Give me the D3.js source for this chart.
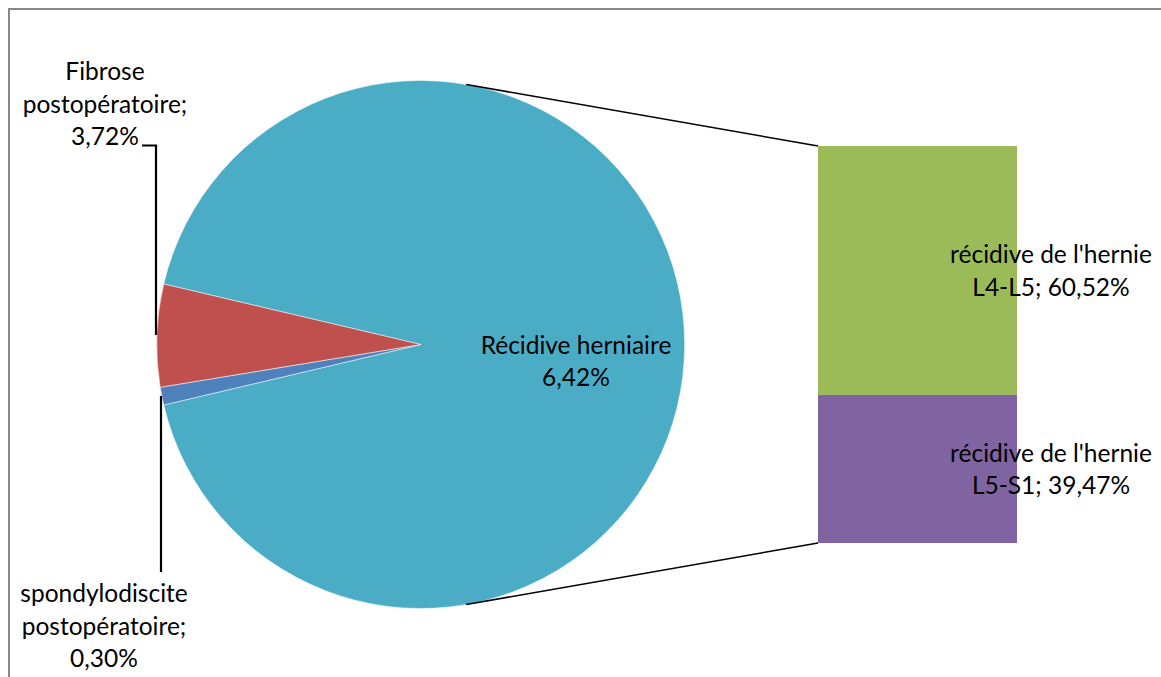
<!DOCTYPE html>
<html>
<head>
<meta charset="utf-8">
<script src="https://cdn.jsdelivr.net/npm/d3@7"></script>
<style>
  html, body { margin: 0; padding: 0; background: #fff; }
  svg { display: block; }
  text { font-family: Lato, "Open Sans", sans-serif; fill: #000; }
</style>
</head>
<body>
<svg id="chart" width="1161" height="677"></svg>
<script>
// ---- data ----
const pieCategories = ["Récidive herniaire", "spondylodiscite postopératoire", "Fibrose postopératoire"];
const pieOwnValues = [1.09, 6.27];            // spondylodiscite, fibrose
const barCategories = ["récidive de l'hernie L4-L5", "récidive de l'hernie L5-S1"];
const barValues = [58.07, 34.56];             // L4-L5, L5-S1
const pieLabels = [["Récidive herniaire", "6,42%"], ["spondylodiscite", "postopératoire;", "0,30%"], ["Fibrose", "postopératoire;", "3,72%"]];
const barLabels = [["récidive de l'hernie", "L4-L5; 60,52%"], ["récidive de l'hernie", "L5-S1; 39,47%"]];
const pieColors = ["#4BACC6", "#4F81BD", "#C0504D"];
const barColors = ["#9BBB59", "#8064A2"];

const svg = d3.select("#chart");

// frame
svg.append("rect").attr("x", 9).attr("y", 9).attr("width", 1200).attr("height", 700)
  .attr("fill", "none").attr("stroke", "#878787").attr("stroke-width", 2);

// ---- pie ----
const cx = 420.7, cy = 344.5, R = 264;
const otherValue = d3.sum(barValues);
const pieValues = [otherValue, ...pieOwnValues];
const total = d3.sum(pieValues);
const start = Math.PI / 2 - Math.PI * otherValue / total;
const pie = d3.pie().sort(null).startAngle(start).endAngle(start + 2 * Math.PI);
const arcs = pie(pieValues);
const arc = d3.arc().innerRadius(0).outerRadius(R);
const g = svg.append("g").attr("transform", `translate(${cx},${cy})`);
g.selectAll("path").data(arcs).join("path")
  .attr("d", arc).attr("fill", (d, i) => pieColors[i])
  .attr("stroke", "#fff").attr("stroke-width", 0.5);

// ---- bar ----
const barX = 818, barW = 199;
const y = d3.scaleLinear().domain([0, otherValue]).range([146, 543]);
let acc = 0;
const segs = barValues.map((v, i) => { const s = { i, y0: acc, y1: acc + v }; acc += v; return s; });
svg.selectAll("rect.bar").data(segs).join("rect").attr("class", "bar")
  .attr("x", barX).attr("width", barW)
  .attr("y", d => y(d.y0)).attr("height", d => y(d.y1) - y(d.y0))
  .attr("fill", d => barColors[d.i]);

// ---- connector lines (tangent from bar corners to circle) ----
function tangent(px, py, upper) {
  const dx = px - cx, dy = py - cy;
  const d = Math.hypot(dx, dy);
  const base = Math.atan2(dy, dx);
  const off = Math.acos(R / d);
  const a = upper ? base - off : base + off;
  return [cx + R * Math.cos(a), cy + R * Math.sin(a)];
}
const topCorner = [barX, y(0)], botCorner = [barX, y(otherValue)];
[[topCorner, true], [botCorner, false]].forEach(([c, up]) => {
  const t = tangent(c[0], c[1], up);
  svg.append("line").attr("x1", t[0]).attr("y1", t[1]).attr("x2", c[0]).attr("y2", c[1])
    .attr("stroke", "#000").attr("stroke-width", 1.6);
});

// ---- leader lines ----
svg.append("path").attr("d", "M142,145.5 H156 V335").attr("fill", "none").attr("stroke", "#000").attr("stroke-width", 2.2);
svg.append("path").attr("d", "M161,396 V572").attr("fill", "none").attr("stroke", "#000").attr("stroke-width", 2.2);

// ---- labels ----
const fs = 24.5, lh = 32.5;
function label(lines, x, yBase) {
  const t = svg.append("text").attr("text-anchor", "middle").attr("font-size", fs);
  lines.forEach((s, k) => t.append("tspan").attr("x", x).attr("y", yBase + k * lh).text(s));
}
label(pieLabels[0], 576, 353.5);
label(pieLabels[1], 104, 602);
label(pieLabels[2], 105, 80);
label(barLabels[0], 1051, 263);
label(barLabels[1], 1051, 461.5);
</script>
</body>
</html>
